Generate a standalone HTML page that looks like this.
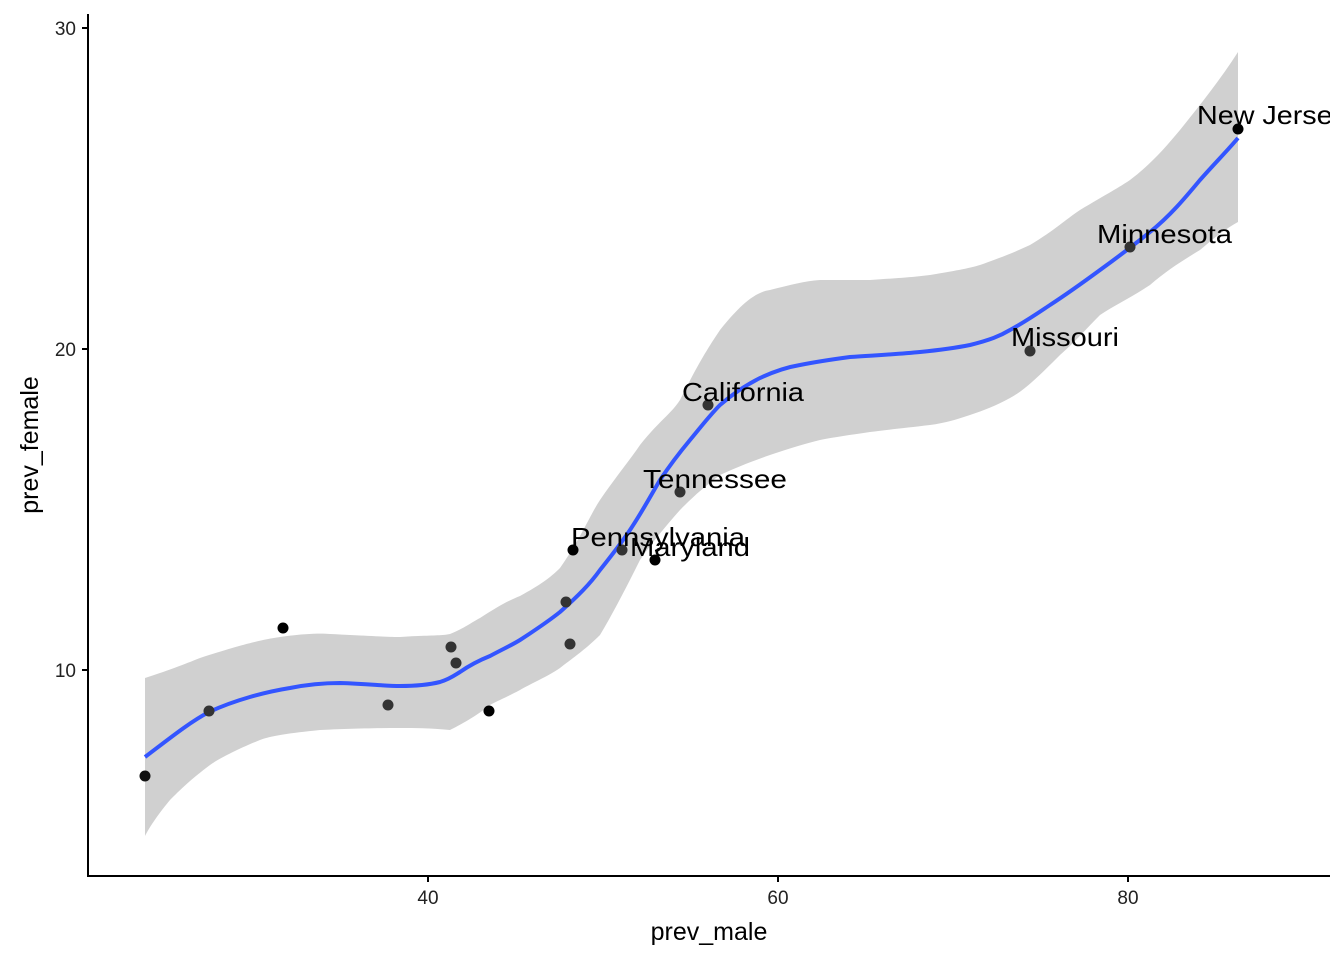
<!DOCTYPE html>
<html><head><style>body{margin:0;background:#fff}svg{display:block}</style></head><body>
<svg width="1344" height="960" viewBox="0 0 1344 960" xmlns="http://www.w3.org/2000/svg" font-family="Liberation Sans, Arial, sans-serif">
<defs><clipPath id="c"><rect x="88" y="0" width="1242" height="876"/></clipPath></defs>
<path d="M145,678 C170,670 190,662 200,658 C240,645 260,640 280,637 C300,634 320,633 330,634 C370,636 390,637 400,637 C430,635 440,636 450,634 C465,628 472,622 480,618 C500,605 510,600 520,596 C540,585 550,578 560,568 C580,540 590,515 600,500 C615,478 630,460 640,445 C660,420 670,415 680,400 C700,360 710,345 720,330 C740,305 755,292 770,290 C790,285 805,281 820,280 C850,280 860,280 870,280 C900,278 915,277 930,275 C960,270 970,268 980,265 C1000,258 1015,252 1030,245 C1055,230 1065,220 1080,210 C1105,195 1115,190 1130,180 C1150,165 1165,148 1180,130 C1200,105 1220,80 1238,52 L1238,222 C1220,232 1210,242 1200,250 C1180,262 1165,272 1150,285 C1130,298 1115,305 1100,315 C1085,330 1075,342 1060,355 C1040,375 1025,390 1010,398 C995,406 985,410 970,415 C955,420 945,423 930,425 C905,428 885,430 870,432 C850,435 835,437 820,440 C800,445 785,450 770,455 C750,462 735,468 720,475 C700,490 690,500 680,510 C665,527 650,545 640,560 C625,590 612,615 600,635 C585,650 570,660 560,668 C545,678 530,684 520,690 C505,698 495,702 490,705 C475,717 460,725 450,730 C430,728 415,728 400,728 C370,728 340,729 320,730 C290,733 270,736 260,740 C240,748 220,758 210,765 C190,780 180,790 170,800 C160,812 150,826 145,836 Z" fill="#d0d0d0"/>
<path d="M145,757 C170,738 190,722 209,712 C235,700 265,692 290,688 C310,684 325,683 340,683 C370,684 385,686 400,686 C420,686 432,684 440,682 C450,679 455,675 460,672 C470,665 480,660 490,656 C505,648 512,645 520,640 C540,627 550,620 560,612 C578,596 590,584 600,570 C612,555 620,545 630,530 C642,512 650,497 660,480 C672,462 680,452 690,440 C700,428 710,415 720,405 C735,392 748,384 760,378 C775,371 788,367 800,365 C820,361 835,359 850,357 C880,355 900,354 920,352 C940,350 955,348 970,345 C990,340 1000,336 1010,330 C1025,322 1038,313 1050,305 C1070,292 1085,281 1100,270 C1118,257 1135,244 1150,232 C1170,216 1185,198 1200,180 C1215,163 1228,150 1238,138" fill="none" stroke="#3355ff" stroke-width="4"/>
<g fill="#000">
<circle cx="145" cy="776" r="5.5" fill="#111"/><circle cx="209" cy="711" r="5.5" fill="#333"/><circle cx="283" cy="628" r="5.5"/><circle cx="388" cy="705" r="5.5" fill="#333"/><circle cx="451" cy="647" r="5.5" fill="#333"/><circle cx="456" cy="663" r="5.5" fill="#333"/><circle cx="489" cy="711" r="5.5"/><circle cx="566" cy="602" r="5.5" fill="#333"/><circle cx="570" cy="644" r="5.5" fill="#333"/><circle cx="573" cy="550" r="5.5"/><circle cx="622" cy="550" r="5.5" fill="#333"/><circle cx="655" cy="560" r="5.5"/><circle cx="680" cy="492" r="5.5" fill="#333"/><circle cx="708" cy="405" r="5.5" fill="#333"/><circle cx="1030" cy="351" r="5.5" fill="#333"/><circle cx="1130" cy="247" r="5.5" fill="#333"/><circle cx="1238" cy="129" r="5.5"/>
</g>
<g font-size="26" fill="#000" clip-path="url(#c)">
<text x="571" y="546" textLength="174" lengthAdjust="spacingAndGlyphs">Pennsylvania</text>
<text x="630" y="556" textLength="120" lengthAdjust="spacingAndGlyphs">Maryland</text>
<text x="643" y="488" textLength="144" lengthAdjust="spacingAndGlyphs">Tennessee</text>
<text x="682" y="401" textLength="122" lengthAdjust="spacingAndGlyphs">California</text>
<text x="1011" y="346" textLength="108" lengthAdjust="spacingAndGlyphs">Missouri</text>
<text x="1097" y="243" textLength="135" lengthAdjust="spacingAndGlyphs">Minnesota</text>
<text x="1197" y="124" textLength="150" lengthAdjust="spacingAndGlyphs">New Jersey</text>
</g>
<g stroke="#000" stroke-width="2" fill="none">
<path d="M88,14 V876 H1330"/>
<path d="M82,28 H88 M82,349 H88 M82,670 H88 M428,876 V882 M778,876 V882 M1128,876 V882"/>
</g>
<g font-size="19" fill="#222">
<text x="76" y="35" text-anchor="end">30</text>
<text x="76" y="356" text-anchor="end">20</text>
<text x="76" y="677" text-anchor="end">10</text>
<text x="428" y="904" text-anchor="middle">40</text>
<text x="778" y="904" text-anchor="middle">60</text>
<text x="1128" y="904" text-anchor="middle">80</text>
</g>
<text x="709" y="940" font-size="25" text-anchor="middle">prev_male</text>
<text transform="translate(38,445) rotate(-90)" font-size="25" text-anchor="middle">prev_female</text>
</svg>
</body></html>
